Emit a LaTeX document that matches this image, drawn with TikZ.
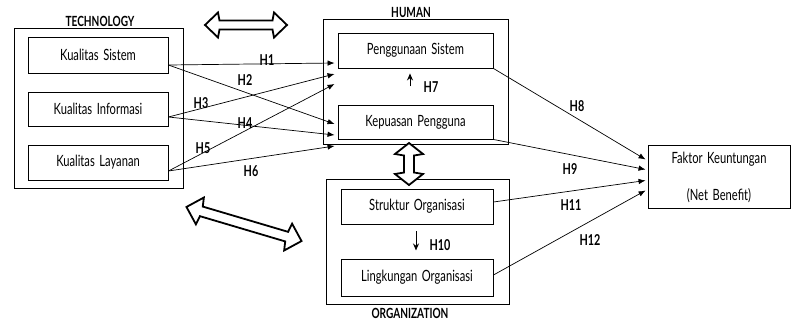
\documentclass[tikz,border=0pt]{standalone}
\usepackage{fontspec}
\setmainfont[FakeStretch=0.72,WordSpace=1.6]{Lato}
\usetikzlibrary{calc,arrows.meta}
\tikzset{
  box/.style={draw, line width=0.9pt, inner sep=0pt, anchor=center, font=\fontsize{15.5}{17}\selectfont},
  outer/.style={draw, line width=0.9pt, inner sep=0pt, anchor=center},
  conn/.style={line width=0.7pt, -{Latex[length=7pt,width=5.5pt]}},
  hlab/.style={font=\fontsize{15}{17}\selectfont\bfseries, inner sep=0pt},
  grp/.style={font=\fontsize{14}{16}\selectfont\bfseries, inner sep=0pt},
  hollow/.style={line width=1.8pt, line join=miter, fill=white}
}
\newcommand\hollowdbl[7]{% center, angle, half length, head length, shaft half width, head half width
  \begin{scope}[shift={#1}, rotate=#2]
    \draw[hollow] (-#3,0) -- (-#3+#4,#6) -- (-#3+#4+1.5,#5) -- (#3-#4-1.5,#5) -- (#3-#4,#6) -- (#3,0)
      -- (#3-#4,-#6) -- (#3-#4-1.5,-#5) -- (-#3+#4+1.5,-#5) -- (-#3+#4,-#6) -- cycle;
  \end{scope}}
\begin{document}
\begin{tikzpicture}[x=1pt,y=-1pt]
\useasboundingbox (0,0) rectangle (793,322);
% technology
\node[outer, minimum width=169pt, minimum height=160pt] (tech) at (98.5,108) {};
\node[grp, anchor=south] (techl) at (100,27) {TECHNOLOGY};
\node[box, minimum width=140pt, minimum height=36pt] (ks) at (98,55) {Kualitas Sistem};
\node[box, minimum width=140pt, minimum height=34pt] (ki) at (98,109) {Kualitas Informasi};
\node[box, minimum width=140pt, minimum height=35pt] (kl) at (98,162.5) {Kualitas Layanan};
% human
\node[outer, minimum width=185pt, minimum height=125pt] (human) at (415.5,81.5) {};
\node[grp, anchor=south] (humanl) at (411,18) {HUMAN};
\node[box, minimum width=155pt, minimum height=35pt] (ps) at (415.5,50.5) {Penggunaan Sistem};
\node[box, minimum width=155pt, minimum height=34pt] (kp) at (415.5,122) {Kepuasan Pengguna};
% organization
\node[outer, minimum width=183pt, minimum height=125pt] (org) at (417.5,241.5) {};
\node[grp, anchor=north] (orgl) at (410,308) {ORGANIZATION};
\node[box, minimum width=152pt, minimum height=35pt] (so) at (417,206.5) {Struktur Organisasi};
\node[box, minimum width=152pt, minimum height=37pt] (lo) at (417,277.5) {Lingkungan Organisasi};
% net benefit
\node[box, minimum width=142pt, minimum height=63pt, align=center] (fk) at (719,177) {Faktor Keuntungan\\[20pt](Net Benefit)};
% technology -> human
\draw[conn] ($(ks.east)+(0,10)$) -- ($(ps.west)+(-3,12.5)$);
\draw[conn] ($(ks.east)+(0,10)$) -- ($(kp.west)+(-3,2)$);
\draw[conn] ($(ki.east)+(0,8)$) -- ($(ps.west)+(-3,23.5)$);
\draw[conn] ($(ki.east)+(0,8)$) -- ($(kp.west)+(-3,13)$);
\draw[conn] ($(kl.east)+(0,8.5)$) -- ($(ps.west)+(-3,33.5)$);
\draw[conn] ($(kl.east)+(0,8.5)$) -- ($(kp.west)+(-3,24)$);
\node[hlab] (h1) at (267,60) {H1};
\node[hlab] (h2) at (245,80) {H2};
\node[hlab] (h3) at (201,103) {H3};
\node[hlab] (h4) at (245,123) {H4};
\node[hlab] (h5) at (203,148) {H5};
\node[hlab] (h6) at (251,171) {H6};
% H7, H10
\draw[line width=1pt, -{Stealth[length=7pt,width=6pt]}] ($(ps.south)+(-5.5,18)$) -- ($(ps.south)+(-5.5,5)$);
\node[hlab] (h7) at (431,87.5) {H7};
\draw[line width=1pt, -{Stealth[length=7pt,width=6pt]}] ($(so.south)+(-1,7)$) -- ($(so.south)+(-1,26)$);
\node[hlab] (h10) at (440,245) {H10};
% to net benefit
\draw[conn] (ps.south east) -- ($(fk.west)+(-2,-17.5)$);
\draw[conn] (kp.south east) -- ($(fk.west)+(-2,-7.5)$);
\draw[conn] ($(so.east)+(0,-4.5)$) -- ($(fk.west)+(-2,3.5)$);
\draw[conn] ($(lo.east)+(0,-2.5)$) -- ($(fk.west)+(-2,13.5)$);
\node[hlab] (h8) at (577,106) {H8};
\node[hlab] (h9) at (570,169) {H9};
\node[hlab] (h11) at (571,205) {H11};
\node[hlab] (h12) at (590,240) {H12};
% hollow double arrows
\hollowdbl{(246,25)}{0}{41}{13}{4.5}{12.5}{}
\hollowdbl{(409,164)}{90}{21}{11}{5}{14}{}
\hollowdbl{(244,224)}{-16.5}{60}{14}{5}{14}{}
\end{tikzpicture}
\end{document}
